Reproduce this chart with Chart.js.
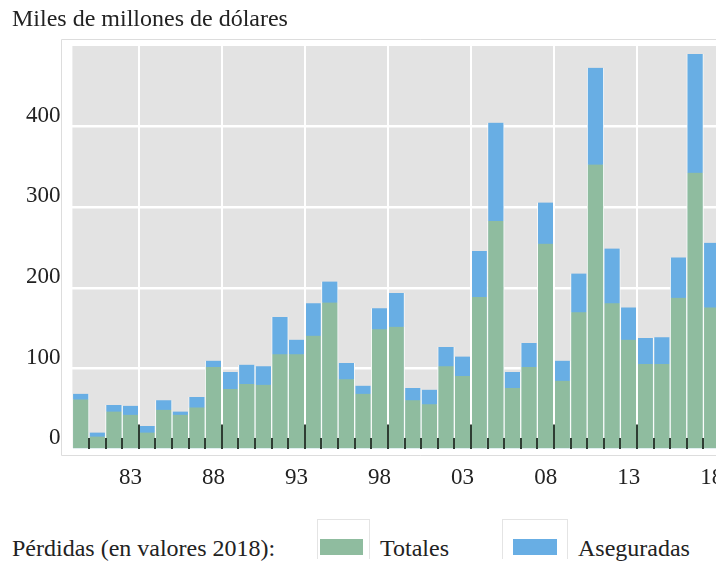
<!DOCTYPE html>
<html>
<head>
<meta charset="utf-8">
<script src="https://cdn.jsdelivr.net/npm/chart.js@4/dist/chart.umd.min.js"></script>
<style>
  html, body { margin: 0; padding: 0; background: #fff; }
  #wrap { position: relative; width: 716px; height: 562px; overflow: hidden; background: #fff; }
  #cv { position: absolute; left: 0; top: 0; }
  .lg { position: absolute; font-family: 'Liberation Serif', 'Times New Roman', serif; font-size: 24px; color: #222; line-height: 1; white-space: nowrap; }
  .box { position: absolute; border: 1px solid #e4e4e4; border-bottom: none; box-sizing: border-box; }
  .sw { position: absolute; }
</style>
</head>
<body>
<div id="wrap">
  <canvas id="cv" width="780" height="500"></canvas>
  <div id="legend"></div>
</div>
<script>
// ---- data ----
const years = [1980,1981,1982,1983,1984,1985,1986,1987,1988,1989,
               1990,1991,1992,1993,1994,1995,1996,1997,1998,1999,
               2000,2001,2002,2003,2004,2005,2006,2007,2008,2009,
               2010,2011,2012,2013,2014,2015,2016,2017,2018];
// green part (Totales)
const totales = [62,16,47,43,21,49,43,52,102,75,
                 81,80,118,118,141,182,87,69,149,152,
                 61,56,103,91,189,283,76,102,255,85,
                 170,353,181,136,106,106,188,343,176];
// top of each bar (blue, Aseguradas)
const aseguradas = [69,21,55,54,29,61,47,65,110,96,
                    105,103,164,136,181,208,107,79,175,194,
                    76,74,127,115,246,405,96,132,306,110,
                    218,473,249,176,138,139,238,490,256];
const xTickLabels = ['83','88','93','98','03','08','13','18'];
const yTicks = [0,100,200,300,400];
const seriesNames = ['Totales','Aseguradas'];
const titleText = 'Miles de millones de dólares';
const legendPrefix = 'Pérdidas (en valores 2018):';

const GREEN = '#8fbc9f';
const BLUE = '#68aee4';
const SERIF = "'Liberation Serif', 'Times New Roman', serif";

const panelPlugin = {
  id: 'panel',
  beforeDraw(chart) {
    const {ctx, chartArea: a} = chart;
    ctx.save();
    ctx.fillStyle = '#e3e3e3';
    ctx.fillRect(a.left, a.top, a.right - a.left, a.bottom - a.top);
    ctx.strokeStyle = '#dddddd';
    ctx.lineWidth = 1;
    const l = Math.round(a.left - 11.4) + 0.5;
    const t = Math.round(a.top - 7) + 0.5;
    const b = Math.round(a.bottom + 6) + 0.5;
    ctx.beginPath();
    ctx.moveTo(chart.width, t); ctx.lineTo(l, t); ctx.lineTo(l, b); ctx.lineTo(chart.width, b);
    ctx.stroke();
    ctx.restore();
  }
};

const chart = new Chart(document.getElementById('cv'), {
  type: 'bar',
  data: {
    labels: years,
    datasets: [
      { label: seriesNames[0], data: totales, backgroundColor: GREEN, order: 0,
        grouped: false, barPercentage: 1, categoryPercentage: 1,
        borderWidth: {left: 1, right: 1, top: 0, bottom: 0}, borderColor: 'rgba(250,252,250,0.85)', borderSkipped: false },
      { label: seriesNames[1], data: aseguradas, backgroundColor: BLUE, order: 1,
        grouped: false, barPercentage: 1, categoryPercentage: 1,
        borderWidth: {left: 1, right: 1, top: 0, bottom: 0}, borderColor: 'rgba(250,252,250,0.85)', borderSkipped: false }
    ]
  },
  options: {
    responsive: false,
    animation: false,
    layout: { padding: { left: 12, right: 60, top: 0, bottom: 8 } },
    plugins: {
      legend: { display: false },
      tooltip: { enabled: false },
      title: {
        display: true, text: titleText, align: 'start', color: '#222',
        font: { family: SERIF, size: 24, weight: 'normal' },
        padding: { top: 5, bottom: 12.2 }
      }
    },
    scales: {
      x: {
        type: 'category',
        offset: true,
        afterFit: (s) => { s.height = 42.6; },
        border: { display: false },
        grid: {
          offset: true,
          z: 1,
          drawOnChartArea: true,
          color: (c) => (c.index > 0 && c.index < years.length && c.index % 5 === 4) ? '#ffffff' : 'rgba(0,0,0,0)',
          lineWidth: 2,
          drawTicks: true,
          tickLength: -25,
          tickWidth: 2,
          tickColor: (c) => (c.index > 0 && c.index < years.length) ? '#2f3d33' : 'rgba(0,0,0,0)',
          tickBorderDash: (c) => (c.index % 5 === 4) ? [] : [11, 60]
        },
        ticks: {
          autoSkip: false, maxRotation: 0, minRotation: 0,
          padding: 40, color: '#222',
          font: { family: SERIF, size: 23 },
          callback: function(v, i) {
            const s = String(years[i]).slice(2);
            return xTickLabels.includes(s) ? s : '';
          }
        }
      },
      y: {
        min: 0, max: 500,
        afterFit: (s) => { s.width = 60.4; },
        afterBuildTicks: (s) => { s.ticks = yTicks.concat([500]).map(v => ({ value: v })); },
        border: { display: false },
        grid: {
          color: (c) => (c.tick && c.tick.value === 500) ? 'rgba(0,0,0,0)' : '#ffffff',
          lineWidth: 2.5,
          drawTicks: false
        },
        ticks: {
          padding: 12, labelOffset: -11, color: '#222',
          font: { family: SERIF, size: 23 },
          callback: (v) => yTicks.includes(v) ? String(v) : ''
        }
      }
    }
  },
  plugins: [panelPlugin]
});

// HTML legend built from the chart's datasets
const lg = document.getElementById('legend');
function add(html) { lg.insertAdjacentHTML('beforeend', html); }
add(`<div class="lg" style="left:12px; top:536px;">${legendPrefix}</div>`);
const ds = chart.data.datasets;
const boxes = [ {box: 317, bw: 53, sw: 320, sww: 43, text: 380}, {box: 502, bw: 66, sw: 513, sww: 44, text: 578} ];
ds.forEach((d, i) => {
  const b = boxes[i];
  add(`<div class="box" style="left:${b.box}px; top:519px; width:${b.bw}px; height:40px;"></div>`);
  add(`<div class="sw" style="left:${b.sw}px; top:539px; width:${b.sww}px; height:16px; background:${d.backgroundColor};"></div>`);
  add(`<div class="lg" style="left:${b.text}px; top:536px;">${d.label}</div>`);
});
</script>
</body>
</html>
